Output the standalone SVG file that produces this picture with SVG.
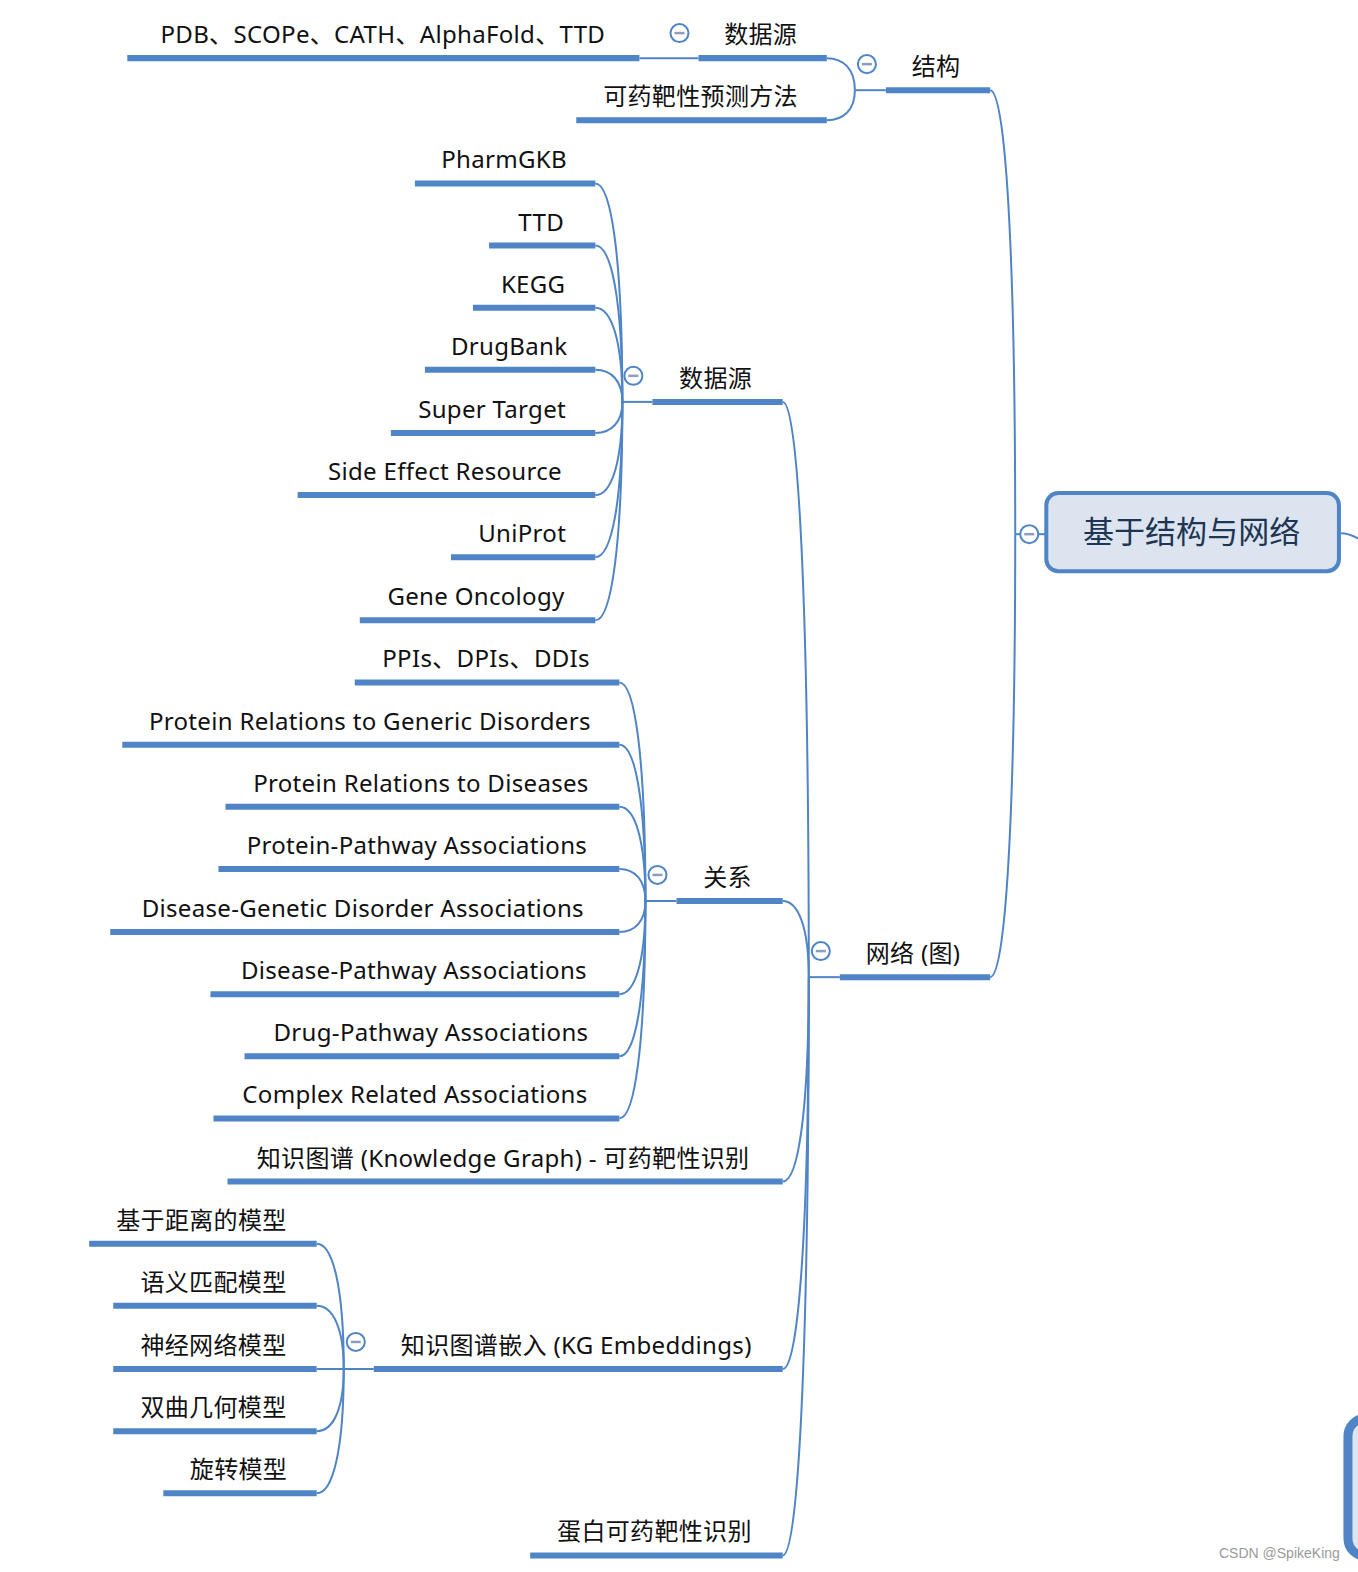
<svg xmlns="http://www.w3.org/2000/svg" width="1358" height="1572" viewBox="0 0 1358 1572">
<style>
.c{fill:none;stroke:#4f85c6;stroke-width:2}
.u{stroke:#4f85c6;stroke-width:6;stroke-linecap:butt}
.t{font-family:"Noto Sans","Noto Sans CJK SC",sans-serif;font-size:24px;fill:#111;text-anchor:middle;letter-spacing:0.3px}
.b circle{fill:#fff;stroke:#4f85c6;stroke-width:2}
.b line{stroke:#8e9cc0;stroke-width:2.5}
</style>
<defs>
<g id="btn" class="b"><circle cx="0" cy="0" r="9"/><line x1="-5" y1="0" x2="5" y2="0"/></g>
</defs>
<rect width="1358" height="1572" fill="#fff"/>
<g transform="scale(1.0022)">
<g id="connectors">
<path class="c" d="M1013,533 H1043"/>
<path class="c" d="M988,90 C1003,90 1013,245 1013,533"/>
<path class="c" d="M988,975 C1003,975 1013,820 1013,533"/>
<path class="c" d="M1338,532 C1346,532 1352,535 1360,540"/>
<path class="c" d="M853,90 H884"/>
<path class="c" d="M825,58 C841.8,58 853,69.2 853,90"/>
<path class="c" d="M825,120 C841.8,120 853,109.5 853,90"/>
<path class="c" d="M638,58 H697"/>
<path class="c" d="M807,975 H838"/>
<path class="c" d="M781,401 C796.6,401 807,601.9 807,975"/>
<path class="c" d="M781,899 C796.6,899 807,925.6 807,975"/>
<path class="c" d="M781,1179 C796.6,1179 807,1107.6 807,975"/>
<path class="c" d="M781,1366 C796.6,1366 807,1229.2 807,975"/>
<path class="c" d="M781,1552 C796.6,1552 807,1350.1 807,975"/>
<path class="c" d="M621,401 H651"/>
<path class="c" d="M594,183 C610.2,183 621,259.3 621,401"/>
<path class="c" d="M594,245 C610.2,245 621,299.6 621,401"/>
<path class="c" d="M594,307 C610.2,307 621,339.9 621,401"/>
<path class="c" d="M594,369 C610.2,369 621,380.2 621,401"/>
<path class="c" d="M594,432 C610.2,432 621,421.2 621,401"/>
<path class="c" d="M594,494 C610.2,494 621,461.5 621,401"/>
<path class="c" d="M594,556 C610.2,556 621,501.8 621,401"/>
<path class="c" d="M594,619 C610.2,619 621,542.7 621,401"/>
<path class="c" d="M644,899 H675"/>
<path class="c" d="M618,681 C633.6,681 644,757.3 644,899"/>
<path class="c" d="M618,743 C633.6,743 644,797.6 644,899"/>
<path class="c" d="M618,805 C633.6,805 644,837.9 644,899"/>
<path class="c" d="M618,867 C633.6,867 644,878.2 644,899"/>
<path class="c" d="M618,930 C633.6,930 644,919.2 644,899"/>
<path class="c" d="M618,992 C633.6,992 644,959.5 644,899"/>
<path class="c" d="M618,1054 C633.6,1054 644,999.8 644,899"/>
<path class="c" d="M618,1116 C633.6,1116 644,1040.1 644,899"/>
<path class="c" d="M343,1366 H373"/>
<path class="c" d="M316,1241 C332.2,1241 343,1284.75 343,1366"/>
<path class="c" d="M316,1303 C332.2,1303 343,1325.05 343,1366"/>
<path class="c" d="M316,1366 H343"/>
<path class="c" d="M316,1428 C332.2,1428 343,1406.3 343,1366"/>
<path class="c" d="M316,1490 C332.2,1490 343,1446.6 343,1366"/>
</g>

<g id="root">
<rect x="1044" y="492" width="292" height="78" rx="12" fill="#dbe4ef" stroke="#4f85c6" stroke-width="4"/>
<text x="1189" y="542" font-family="Noto Sans CJK SC, sans-serif" font-size="31" fill="#1e3553" text-anchor="middle">基于结构与网络</text>
<use href="#btn" x="1027" y="533"/>
</g>

<g id="other-root">
<rect x="1345" y="1415" width="60" height="138" rx="18" fill="#dde6f0" stroke="#4f85c6" stroke-width="9"/>
</g>

<g id="n-jiegou"><line class="u" x1="884" y1="90" x2="988" y2="90"/><text class="t" x="934" y="75">结构</text><use href="#btn" x="865" y="64"/></g>
<g id="n-s-sjy"><line class="u" x1="697" y1="58" x2="825" y2="58"/><text class="t" x="759" y="43">数据源</text><use href="#btn" x="678" y="33"/></g>
<g id="n-pdb"><line class="u" x1="127" y1="58" x2="638" y2="58"/><text class="t" x="382" y="43">PDB、SCOPe、CATH、AlphaFold、TTD</text></g>
<g id="n-kyb"><line class="u" x1="575" y1="120" x2="825" y2="120"/><text class="t" x="699" y="105">可药靶性预测方法</text></g>

<g id="n-wl"><line class="u" x1="838" y1="975" x2="988" y2="975"/><text class="t" x="911" y="960">网络 (图)</text><use href="#btn" x="819" y="949"/></g>
<g id="n-n-sjy"><line class="u" x1="651" y1="401" x2="781" y2="401"/><text class="t" x="714" y="386">数据源</text><use href="#btn" x="632" y="375"/></g>
<g id="n-pharmgkb"><line class="u" x1="414" y1="183" x2="594" y2="183"/><text class="t" x="503" y="168">PharmGKB</text></g>
<g id="n-ttd"><line class="u" x1="488" y1="245" x2="594" y2="245"/><text class="t" x="540" y="230">TTD</text></g>
<g id="n-kegg"><line class="u" x1="472" y1="307" x2="594" y2="307"/><text class="t" x="532" y="292">KEGG</text></g>
<g id="n-drugbank"><line class="u" x1="424" y1="369" x2="594" y2="369"/><text class="t" x="508" y="354">DrugBank</text></g>
<g id="n-supertarget"><line class="u" x1="390" y1="432" x2="594" y2="432"/><text class="t" x="491" y="417">Super Target</text></g>
<g id="n-sider"><line class="u" x1="297" y1="494" x2="594" y2="494"/><text class="t" x="444" y="479">Side Effect Resource</text></g>
<g id="n-uniprot"><line class="u" x1="450" y1="556" x2="594" y2="556"/><text class="t" x="521" y="541">UniProt</text></g>
<g id="n-geneonc"><line class="u" x1="359" y1="619" x2="594" y2="619"/><text class="t" x="475" y="604">Gene Oncology</text></g>

<g id="n-gx"><line class="u" x1="675" y1="899" x2="781" y2="899"/><text class="t" x="726" y="884">关系</text><use href="#btn" x="656" y="873"/></g>
<g id="n-ppis"><line class="u" x1="354" y1="681" x2="618" y2="681"/><text class="t" x="485" y="666">PPIs、DPIs、DDIs</text></g>
<g id="n-prgd"><line class="u" x1="122" y1="743" x2="618" y2="743"/><text class="t" x="369" y="728">Protein Relations to Generic Disorders</text></g>
<g id="n-prd"><line class="u" x1="225" y1="805" x2="618" y2="805"/><text class="t" x="420" y="790">Protein Relations to Diseases</text></g>
<g id="n-ppa"><line class="u" x1="218" y1="867" x2="618" y2="867"/><text class="t" x="416" y="852">Protein-Pathway Associations</text></g>
<g id="n-dgda"><line class="u" x1="110" y1="930" x2="618" y2="930"/><text class="t" x="362" y="915">Disease-Genetic Disorder Associations</text></g>
<g id="n-dpa"><line class="u" x1="210" y1="992" x2="618" y2="992"/><text class="t" x="413" y="977">Disease-Pathway Associations</text></g>
<g id="n-drpa"><line class="u" x1="244" y1="1054" x2="618" y2="1054"/><text class="t" x="430" y="1039">Drug-Pathway Associations</text></g>
<g id="n-cra"><line class="u" x1="213" y1="1116" x2="618" y2="1116"/><text class="t" x="414" y="1101">Complex Related Associations</text></g>

<g id="n-kg"><line class="u" x1="227" y1="1179" x2="781" y2="1179"/><text class="t" x="502" y="1164">知识图谱 (Knowledge Graph) - 可药靶性识别</text></g>

<g id="n-kge"><line class="u" x1="373" y1="1366" x2="781" y2="1366"/><text class="t" x="575" y="1351">知识图谱嵌入 (KG Embeddings)</text><use href="#btn" x="355" y="1339"/></g>
<g id="n-jl"><line class="u" x1="89" y1="1241" x2="316" y2="1241"/><text class="t" x="201" y="1226">基于距离的模型</text></g>
<g id="n-yy"><line class="u" x1="113" y1="1303" x2="316" y2="1303"/><text class="t" x="213" y="1288">语义匹配模型</text></g>
<g id="n-sj"><line class="u" x1="113" y1="1366" x2="316" y2="1366"/><text class="t" x="213" y="1351">神经网络模型</text></g>
<g id="n-sq"><line class="u" x1="113" y1="1428" x2="316" y2="1428"/><text class="t" x="213" y="1413">双曲几何模型</text></g>
<g id="n-xz"><line class="u" x1="163" y1="1490" x2="316" y2="1490"/><text class="t" x="238" y="1475">旋转模型</text></g>

<g id="n-db"><line class="u" x1="529" y1="1552" x2="781" y2="1552"/><text class="t" x="653" y="1537">蛋白可药靶性识别</text></g>
</g>
<text x="1219" y="1558" font-family="Liberation Sans, Arial, sans-serif" font-size="14" fill="#9a9a9a">CSDN @SpikeKing</text>
</svg>
